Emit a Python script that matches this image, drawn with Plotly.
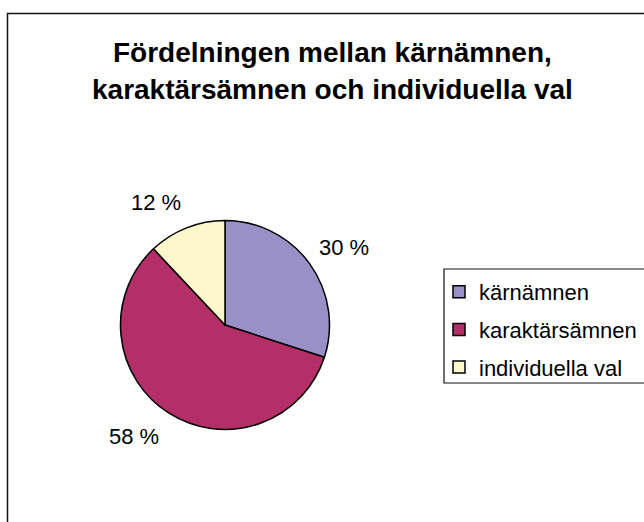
import math
import plotly.graph_objects as go

categories = ["kärnämnen", "karaktärsämnen", "individuella val"]
values = [30, 58, 12]
colors = ["#9990c7", "#b42e67", "#fdf8cb"]
title_lines = ["Fördelningen mellan kärnämnen,", "karaktärsämnen och individuella val"]

W, H = 644, 522
CX, CY, R = 225, 325, 104.5  # pie center / radius in px
FONT = "Liberation Sans, Arial, sans-serif"

fig = go.Figure()
fig.add_trace(go.Pie(
    labels=categories, values=values, sort=False, direction="clockwise", rotation=0,
    marker=dict(colors=colors, line=dict(color="black", width=1.5)),
    textinfo="none", hoverinfo="label+value", showlegend=False,
    domain=dict(x=[(CX - R) / W, (CX + R) / W], y=[1 - (CY + R) / H, 1 - (CY - R) / H]),
))

# legend entries (native legend, one group per category for spacing)
for cat, col in zip(categories, colors):
    fig.add_trace(go.Scatter(
        x=[None], y=[None], mode="markers", name=cat, legendgroup=cat,
        marker=dict(symbol="square", size=12, color=col, line=dict(color="black", width=1.5)),
    ))

# percentage labels placed along each slice's mid-angle
total = sum(values)
cum = 0
for v in values:
    mid = (cum + v / 2) / total * 2 * math.pi
    cum += v
    dx, dy = math.sin(mid), -math.cos(mid)
    px = CX + 132 * dx + (12 if dx > 0 else -20)
    py = CY + 132 * dy
    fig.add_annotation(x=px / W, y=1 - py / H, xref="paper", yref="paper",
                       xanchor="center", yanchor="middle",
                       text=f"{v} %", showarrow=False,
                       font=dict(family=FONT, size=22, color="black"))

for i, line in enumerate(title_lines):
    fig.add_annotation(x=332 / W, y=1 - (53 + 36 * i) / H, xref="paper", yref="paper",
                       xanchor="center", yanchor="middle",
                       text=f"<b>{line}</b>", showarrow=False,
                       font=dict(family=FONT, size=28, color="black"))

# chart area border
fig.add_shape(type="rect", xref="paper", yref="paper",
              x0=7.5 / W, x1=1.05, y0=-0.05, y1=1 - 13.5 / H,
              line=dict(color="#111", width=1.5), layer="above")
# legend border
fig.add_shape(type="rect", xref="paper", yref="paper",
              x0=444 / W, x1=1.05, y0=1 - 383 / H, y1=1 - 269 / H,
              line=dict(color="#111", width=1.2), layer="above")

fig.update_layout(
    width=W, height=H, margin=dict(l=0, r=0, t=0, b=0),
    paper_bgcolor="white", plot_bgcolor="white",
    xaxis=dict(visible=False), yaxis=dict(visible=False),
    showlegend=True,
    legend=dict(x=439 / W, y=1 - 271 / H, xanchor="left", yanchor="top",
                borderwidth=0, bgcolor="rgba(0,0,0,0)",
                font=dict(family=FONT, size=22, color="black"),
                tracegroupgap=6, itemwidth=30),
)
fig.write_html("out.html")
